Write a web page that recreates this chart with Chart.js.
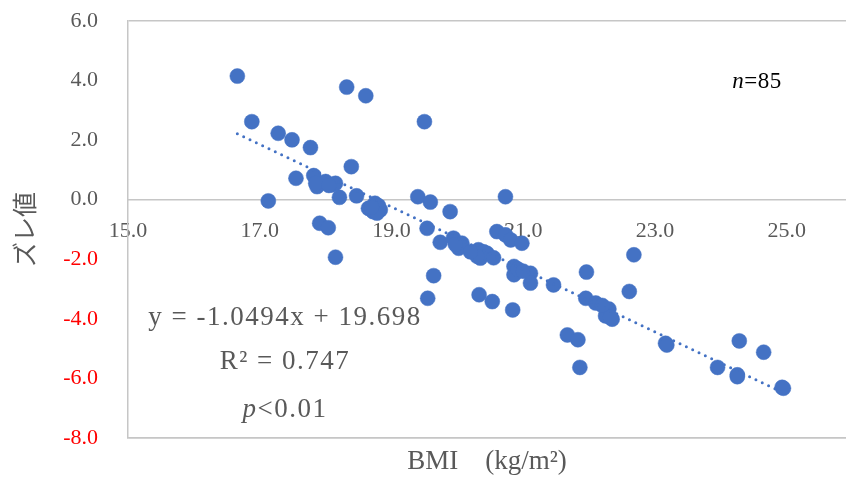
<!DOCTYPE html>
<html>
<head>
<meta charset="utf-8">
<script src="https://cdn.jsdelivr.net/npm/chart.js@4.4.1/dist/chart.umd.min.js"></script>
<style>
  html, body { margin: 0; padding: 0; background: #fff; }
  #wrap { width: 846px; height: 484px; }
</style>
</head>
<body>
<div id="wrap"><canvas id="chart" width="846" height="484"></canvas></div>
<script>
// BMI (x) vs ズレ値 (y)
const bmi = [
  16.66, 16.88, 17.28, 17.49, 17.77, 17.13, 17.55, 17.82, 17.87, 18.00,
  18.10, 18.21, 18.39, 18.47, 18.32, 18.61, 18.65, 18.75, 18.83, 18.72,
  18.80, 17.91, 18.04, 18.15, 19.40, 19.59, 19.50, 19.89, 20.73, 19.54,
  19.74, 19.94, 20.02, 20.07, 20.32, 20.35, 20.45, 20.40, 20.60, 20.73,
  20.81, 20.98, 20.86, 20.86, 21.11, 21.11, 21.46, 19.64, 19.55, 20.33,
  20.53, 20.84, 22.68, 21.96, 22.61, 21.95, 22.10, 22.30, 22.25, 22.35,
  21.67, 21.83, 21.86, 23.16, 24.28, 24.65, 23.95, 24.25, 24.95, 20.92,
  18.15, 17.85, 18.78, 20.30, 22.20, 23.18, 24.25, 21.00, 19.97, 18.05,
  18.70, 20.20, 22.32, 24.93, 20.55
];
const zure = [
  4.15, 2.62, 2.23, 2.01, 1.75, -0.04, 0.72, 0.81, 0.44, 0.61,
  0.50, 0.08, 1.11, 0.13, 3.78, 3.49, -0.29, -0.12, -0.34, -0.40,
  -0.20, -0.79, -0.94, -1.93, 0.10, -0.08, 2.62, -0.40, 0.10, -0.96,
  -1.43, -1.29, -1.63, -1.46, -1.68, -1.96, -1.80, -1.75, -1.07, -1.18,
  -1.35, -1.46, -2.24, -2.52, -2.47, -2.80, -2.86, -2.55, -3.31, -3.19,
  -3.42, -3.70, -1.85, -2.43, -3.08, -3.31, -3.47, -3.67, -3.90, -4.01,
  -4.54, -4.70, -5.63, -4.82, -4.74, -5.12, -5.63, -5.94, -6.33, -2.33,
  0.55, 0.55, -0.45, -1.90, -3.55, -4.88, -5.88, -2.40, -1.50, 0.48,
  -0.25, -1.75, -3.95, -6.30, -1.95
];
const xTicks = [15, 17, 19, 21, 23, 25];
const yTicks = [6, 4, 2, 0, -2, -4, -6, -8];

// trendline from the equation shown on the chart
const slope = -1.0494;
const intercept = 19.698;
const xLo = Math.min(...bmi);
const xHi = Math.max(...bmi);

const gray = '#595959';
const lineGray = '#c6c6c6';
const blue = '#4472c4';
const serif = "'Liberation Serif', 'DejaVu Serif', serif";

const points = bmi.map((x, i) => ({ x: x, y: zure[i] }));
const trend = [xLo, xHi].map(x => ({ x: x, y: slope * x + intercept }));

// text with an italic first letter, centred on cx
function mixedText(ctx, first, rest, cx, cy, size) {
  const italic = 'italic ' + size + 'px ' + serif;
  const upright = size + 'px ' + serif;
  ctx.font = italic;
  const w1 = ctx.measureText(first).width;
  ctx.font = upright;
  const w2 = ctx.measureText(rest).width;
  const x0 = cx - (w1 + w2) / 2;
  ctx.font = italic;
  ctx.fillText(first, x0, cy);
  ctx.font = upright;
  ctx.fillText(rest, x0 + w1, cy);
}

// annotation texts (equation, R², p, n)
const notes = {
  id: 'notes',
  afterDatasetsDraw(chart) {
    const ctx = chart.ctx;
    ctx.save();
    ctx.textBaseline = 'middle';
    ctx.fillStyle = gray;
    ctx.letterSpacing = '1.5px';
    ctx.font = '27px ' + serif;
    ctx.textAlign = 'center';
    ctx.fillText('y = -1.0494x + 19.698', 285, 318);
    ctx.fillText('R\u00b2 = 0.747', 285, 362);
    ctx.textAlign = 'left';
    mixedText(ctx, 'p', '<0.01', 285, 410, 27);

    ctx.letterSpacing = '0.5px';
    ctx.fillStyle = '#000';
    mixedText(ctx, 'n', '=85', 757, 82, 23);
    ctx.restore();
  }
};

new Chart(document.getElementById('chart'), {
  type: 'scatter',
  data: {
    datasets: [
      {
        label: 'trend',
        type: 'line',
        data: trend,
        borderColor: blue,
        borderWidth: 3,
        borderDash: [0, 7],
        borderCapStyle: 'round',
        pointRadius: 0,
        fill: false,
        order: 0
      },
      {
        label: 'ズレ値',
        data: points,
        backgroundColor: blue,
        borderColor: blue,
        borderWidth: 0.5,
        pointRadius: 7.5,
        order: 1
      }
    ]
  },
  options: {
    responsive: false,
    animation: false,
    devicePixelRatio: 1,
    layout: { autoPadding: false, padding: { top: 21, right: 0, bottom: 0, left: 0 } },
    plugins: { legend: { display: false }, tooltip: { enabled: false } },
    scales: {
      x: {
        type: 'linear',
        position: { y: 0 },
        min: 15,
        max: 25.9,
        afterBuildTicks: s => { s.ticks = xTicks.map(v => ({ value: v })); },
        grid: { display: false, drawTicks: false },
        border: { display: true, color: lineGray, width: 1.5 },
        ticks: {
          color: gray,
          padding: 18,
          maxRotation: 0,
          font: { family: serif, size: 22 },
          callback: v => v.toFixed(1)
        }
      },
      xb: {
        type: 'linear',
        position: 'bottom',
        min: 15,
        max: 25.9,
        afterFit: s => { s.height = 46; },
        grid: { display: false, drawTicks: false },
        border: { display: true, color: lineGray, width: 1.5 },
        ticks: { display: false },
        title: {
          display: true,
          text: 'BMI\u3000(kg/m\u00b2)',
          color: gray,
          font: { family: serif, size: 27 },
          padding: { top: 8, bottom: 6 }
        }
      },
      y: {
        type: 'linear',
        position: 'left',
        min: -8,
        max: 6,
        afterBuildTicks: s => { s.ticks = yTicks.map(v => ({ value: v })); },
        afterFit: s => { s.width = 128; s.paddingTop = 0; s.paddingBottom = 0; },
        grid: {
          drawTicks: false,
          lineWidth: 1.5,
          color: c => (c.tick && (c.tick.value === 6 || c.tick.value === -8)) ? lineGray : 'rgba(0,0,0,0)'
        },
        border: { display: true, color: lineGray, width: 1.5 },
        ticks: {
          padding: 30,
          font: { family: serif, size: 22 },
          color: c => c.tick.value < 0 ? '#ff0000' : gray,
          callback: v => v.toFixed(1)
        },
        title: {
          display: true,
          text: 'ズレ値',
          color: gray,
          font: { family: "'Noto Sans CJK JP', sans-serif", size: 25 },
          padding: { top: 9 }
        }
      }
    }
  },
  plugins: [notes]
});
</script>
</body>
</html>
